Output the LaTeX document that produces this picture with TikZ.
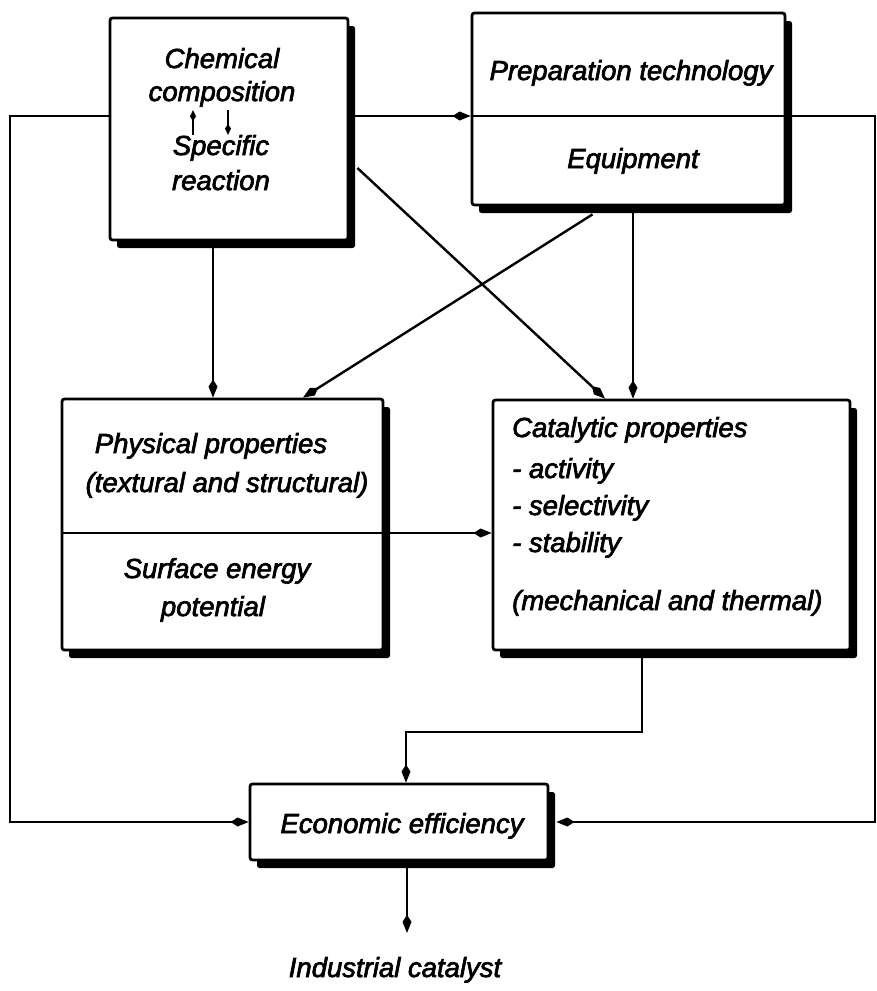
\documentclass[tikz,border=0pt]{standalone}
\usepackage{fontspec}
\setmainfont{Liberation Sans}
\newfontfamily\handfont{Liberation Sans}[FakeBold=2.5]
\usetikzlibrary{arrows.meta,shadows}
\begin{document}
\begin{tikzpicture}[x=1pt,y=-1pt,
  panel/.style={draw, line width=2.8pt, fill=white, rounded corners=2.5pt, inner sep=0pt,
    general shadow={fill=black, shadow xshift=7pt, shadow yshift=-8pt, rounded corners=2.5pt}},
  conn/.style={line width=2.4pt, -{Kite[length=18pt,width=9pt,inset=7pt]}},
  rule/.style={line width=2.6pt},
  lbl/.style={inner sep=0pt, font=\handfont\fontsize{27.5}{33}\selectfont\itshape},
  tinyarrow/.style={line width=2pt, -{Kite[length=11pt,width=6pt,inset=4.5pt]}}
]
\fill[white] (0,0) rectangle (877,991);
\useasboundingbox (0,0) rectangle (877,991);

% boxes
\node[panel, minimum width=238pt, minimum height=222pt] (A) at (229,129) {};
\node[panel, minimum width=313pt, minimum height=192pt] (B) at (628.5,109) {};
\node[panel, minimum width=321pt, minimum height=251pt] (C) at (222.5,524.5) {};
\node[panel, minimum width=357pt, minimum height=250pt] (D) at (671.5,525) {};
\node[panel, minimum width=298pt, minimum height=76pt] (E) at (399,822) {};

% box texts
\node[lbl, anchor=base] (a1) at (222,68) {Chemical};
\node[lbl, anchor=base] (a2) at (222,101) {composition};
\node[lbl, anchor=base] (a3) at (221,155) {Specific};
\node[lbl, anchor=base] (a4) at (221,190) {reaction};

\node[lbl, anchor=base] (b1) at (631,80) {Preparation technology};
\node[lbl, anchor=base] (b2) at (633,168) {Equipment};

\node[lbl, anchor=base] (c1) at (211,453) {Physical properties};
\node[lbl, anchor=base] (c2) at (227,492) {(textural and structural)};
\node[lbl, anchor=base] (c3) at (217,578) {Surface energy};
\node[lbl, anchor=base] (c4) at (213,616) {potential};

\node[lbl, anchor=base west] (d1) at (512,437) {Catalytic properties};
\node[lbl, anchor=base west] (d2) at (512,478) {- activity};
\node[lbl, anchor=base west] (d3) at (512,515) {- selectivity};
\node[lbl, anchor=base west] (d4) at (512,552) {- stability};
\node[lbl, anchor=base west] (d5) at (512,610) {(mechanical and thermal)};

\node[lbl, anchor=base] (e1) at (402,833) {Economic efficiency};
\node[lbl, anchor=base] (out) at (395,977) {Industrial catalyst};

% two-way link inside the composition box
\coordinate (u0) at (193,135);
\coordinate (u1) at (193,110);
\coordinate (v0) at (228,110);
\coordinate (v1) at (228,135);
\draw[tinyarrow] (u0) -- (u1);
\draw[tinyarrow] (v0) -- (v1);

% levels and bends
\coordinate (lvlTop) at (0,116);
\coordinate (lvlMid) at (0,533);
\coordinate (leftTop) at (10,116);
\coordinate (leftBot) at (10,822);
\coordinate (rightTop) at (875,116);
\coordinate (rightBot) at (875,822);
\coordinate (colA) at (213,0);
\coordinate (colAD) at (605,0);
\coordinate (colBC) at (303,0);
\coordinate (colB) at (633,0);
\coordinate (bendD) at (642,732);
\coordinate (bendE) at (406,732);
\coordinate (colOut) at (407,0);

% dividers
\draw[rule] (B.west |- lvlTop) -- (B.east |- lvlTop);
\draw[rule] (C.west |- lvlMid) -- (C.east |- lvlMid);

% connectors
\draw[conn] (A.west |- lvlTop) -- (leftTop) -- (leftBot) -- (E.west);
\draw[conn] (A.east |- lvlTop) -- (B.west |- lvlTop);
\draw[conn, shorten >=7pt] (B.east |- lvlTop) -- (rightTop) -- (rightBot) -- (E.east);
\draw[conn] (A.south -| colA) -- (C.north -| colA);
\draw[conn] ([xshift=8pt,yshift=-39pt]A.east) -- (D.north -| colAD);
\draw[conn] ([xshift=-36pt,yshift=-8pt]B.south) -- (C.north -| colBC);
\draw[conn] (B.south -| colB) -- (D.north -| colB);
\draw[conn] (C.east |- lvlMid) -- (D.west |- lvlMid);
\draw[conn] (D.south -| bendD) -- (bendD) -- (bendE) -- (E.north -| bendE);
\draw[conn, shorten >=24pt] (E.south -| colOut) -- (out.north -| colOut);
\end{tikzpicture}
\end{document}
